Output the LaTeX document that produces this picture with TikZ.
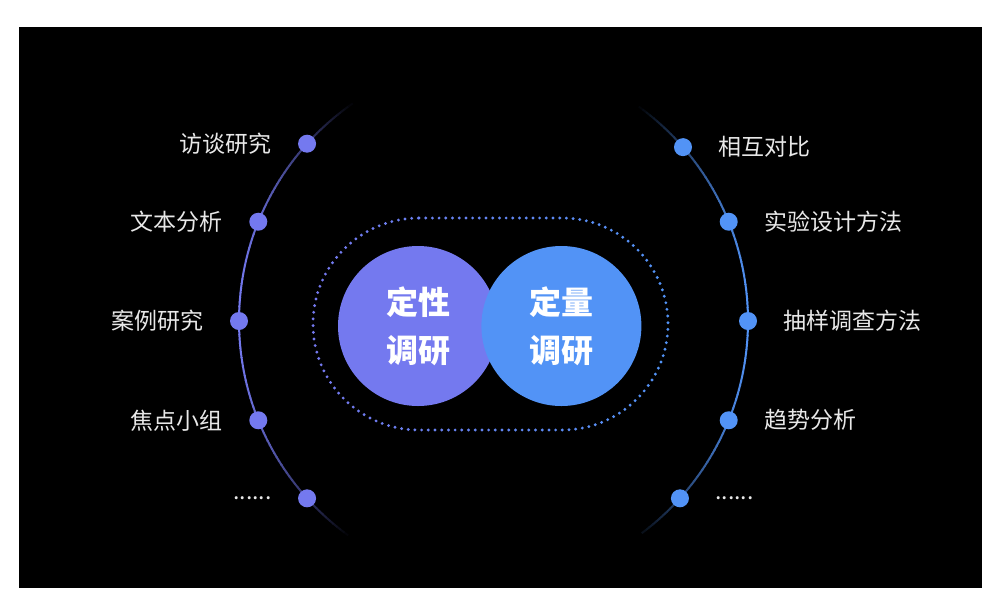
\documentclass[tikz,border=0pt]{standalone}
\usepackage{fontspec}
\newfontfamily\cjk{Noto Sans CJK SC}
\usetikzlibrary{positioning,calc}

\definecolor{qualpurple}{RGB}{116,121,239}
\definecolor{quantblue}{RGB}{82,147,246}
\definecolor{labelgray}{RGB}{232,232,232}

\begin{document}
\begin{tikzpicture} [
                x=1pt, y=-1pt,
                qualdot/.style={
                    circle,
                    fill=qualpurple,
                    minimum size=18pt,
                    inner sep=0pt
                },
                quantdot/.style={
                    circle,
                    fill=quantblue,
                    minimum size=18pt,
                    inner sep=0pt
                },
                methodlabel/.style={
                    text=labelgray,
                    inner sep=0pt,
                    font=\cjk\fontsize{23}{27}\selectfont
                },
                bigcircle/.style={
                    circle,
                    minimum size=160pt,
                    inner sep=0pt,
                    text=white,
                    align=center,
                    font=\cjk\bfseries\fontsize{32}{48}\selectfont
                }
            ]

                \useasboundingbox (0,0) rectangle (1000,614);
                \fill[white] (0,0) rectangle (1000,614);
                \fill[black] (19,27) rectangle (982,588);

                \coordinate (lc) at (504,321);
                \coordinate (rc) at (483,321);

                % arcs, fading out at both ends
                \foreach \a in {126,...,234} {
                    \pgfmathsetmacro\k{max(0,100*(1-((\a-180)/55)*((\a-180)/55)))}
                    \draw[qualpurple!\k!black, line width=2pt] ($(lc)+(\a:265)$) arc[start angle=\a, delta angle=1.2, radius=265];
                }
                \foreach \a in {-54,...,52} {
                    \pgfmathsetmacro\k{max(0,100*(1-(\a/55)*(\a/55)))}
                    \draw[quantblue!\k!black, line width=2pt] ($(rc)+(\a:265)$) arc[start angle=\a, delta angle=1.2, radius=265];
                }

                \node[qualdot]      (interview)     at ($(lc)+(222:265)$)   {};
                \node[qualdot]      (textanalysis)  at ($(lc)+(202:265)$)   {};
                \node[qualdot]      (casestudy)     at ($(lc)+(180:265)$)   {};
                \node[qualdot]      (focusgroup)    at ($(lc)+(158:265)$)   {};
                \node[qualdot]      (qualmore)      at ($(lc)+(138:265)$)   {};

                \node[quantdot]     (comparison)    at ($(rc)+(-41:265)$)   {};
                \node[quantdot]     (experiment)    at ($(rc)+(-22:265)$)   {};
                \node[quantdot]     (sampling)      at ($(rc)+(0:265)$)     {};
                \node[quantdot]     (trend)         at ($(rc)+(22:265)$)    {};
                \node[quantdot]     (quantmore)     at ($(rc)+(42:265)$)    {};

                \node[methodlabel]  (interviewtxt)  [left=26pt of interview]    {访谈研究};
                \node[methodlabel]  (textanalysistxt) [left=26pt of textanalysis] {文本分析};
                \node[methodlabel]  (casestudytxt)  [left=26pt of casestudy]    {案例研究};
                \node[methodlabel]  (focusgrouptxt) [left=26pt of focusgroup]   {焦点小组};
                \node[methodlabel]  (qualmoretxt)   [left=26pt of qualmore]     {......};

                \node[methodlabel]  (comparisontxt) [right=26pt of comparison]  {相互对比};
                \node[methodlabel]  (experimenttxt) [right=26pt of experiment]  {实验设计方法};
                \node[methodlabel]  (samplingtxt)   [right=26pt of sampling]    {抽样调查方法};
                \node[methodlabel]  (trendtxt)      [right=26pt of trend]       {趋势分析};
                \node[methodlabel]  (quantmoretxt)  [right=26pt of quantmore]   {......};

                % dotted frame, purple on the left to blue on the right
                \foreach \i in {0,...,15} {
                    \pgfmathsetmacro\m{100-\i*100/15}
                    \begin{scope}
                        \clip (308+\i*23,200) rectangle (331+\i*23,450);
                        \draw[qualpurple!\m!quantblue, line width=3.2pt, line cap=round, dash pattern=on 0pt off 6.7pt]
                            (419,218) -- (562,218) arc[start angle=-90, delta angle=180, radius=106]
                            -- (419,430) arc[start angle=90, delta angle=180, radius=106] -- cycle;
                    \end{scope}
                }

                \node[bigcircle, fill=qualpurple]   (qual)                          at (418,326)    {定性\\调研};
                \node[bigcircle, fill=quantblue]    (quant)     [right=-17pt of qual]               {定量\\调研};

            \end{tikzpicture}
\end{document}
